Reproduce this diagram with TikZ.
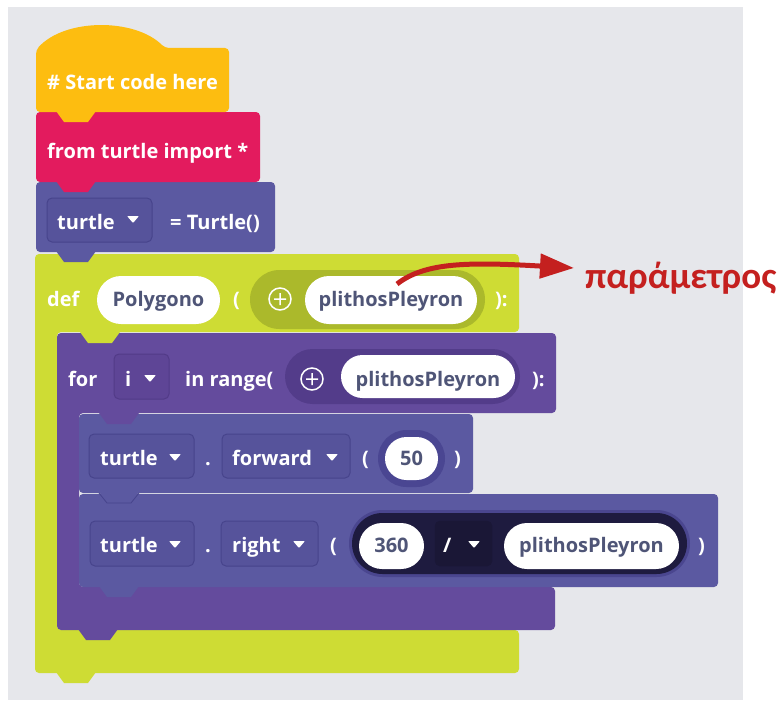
\documentclass[tikz,border=0pt]{standalone}
\usepackage{fontspec}
\newfontfamily\blockfont{Open Sans}
\newfontfamily\labelfont{Carlito}
\usetikzlibrary{arrows.meta}
\definecolor{bgc}{HTML}{E6E7EB}
\definecolor{yel}{HTML}{FDBD10}
\definecolor{pnk}{HTML}{E31B5E}
\definecolor{slate}{HTML}{5B59A1}
\definecolor{slatedd}{HTML}{56539B}
\definecolor{slateln}{HTML}{47448C}
\definecolor{grn}{HTML}{CEDC34}
\definecolor{olive}{HTML}{ABB92B}
\definecolor{forp}{HTML}{644B9D}
\definecolor{forpdd}{HTML}{5E4596}
\definecolor{forpln}{HTML}{523B88}
\definecolor{forpill}{HTML}{533C8A}
\definecolor{numpill}{HTML}{4A4692}
\definecolor{navy}{HTML}{1E1B3F}
\definecolor{navyln}{HTML}{4A468F}
\definecolor{divdd}{HTML}{1A1736}
\definecolor{pilltxt}{HTML}{4F5577}
\definecolor{redc}{HTML}{C4201F}
\newcommand\tabat[3]{\fill[#3] (#1+20,#2-1) -- (#1+28,#2+10) -- (#1+52,#2+10) -- (#1+60,#2-1) -- cycle;}
\newcommand\tabline[3]{\draw[#3, line width=0.8pt] (#1+20,#2) -- (#1+28,#2+10) -- (#1+52,#2+10) -- (#1+60,#2);}
\newcommand\dtri[2]{\fill[white, rounded corners=0.8pt] (#1-6,#2-4) -- (#1+6,#2-4) -- (#1,#2+3) -- cycle;}
\newcommand\plusicon[2]{\draw[white, line width=1.5pt] (#1,#2) circle (11) (#1-6,#2) -- (#1+6,#2) (#1,#2-6) -- (#1,#2+6);}
\begin{document}
\begin{tikzpicture}[x=1pt,y=-1pt,
  btext/.style={anchor=base west, inner sep=0pt, text=white, font=\blockfont\bfseries\fontsize{20}{24}\selectfont},
  ptext/.style={anchor=base, inner sep=0pt, text=pilltxt, font=\blockfont\bfseries\fontsize{20}{24}\selectfont},
  ddslate/.style={fill=slatedd, draw=slateln, line width=1pt, rounded corners=5},
  ddfor/.style={fill=forpdd, draw=forpln, line width=1pt, rounded corners=5},
  ]
\useasboundingbox (0,0) rectangle (784,701);
\fill[white] (0,0) rectangle (784,701);
\fill[bgc] (8,7) rectangle (743,700);

% ---- block bodies ----
\fill[grn, rounded corners=4] (35,254) -- (519,254) -- (519,332) -- (57,332) -- (57,630) -- (519,630) -- (519,673) -- (35,673) -- cycle;
\fill[forp, rounded corners=4] (57,333) -- (556,333) -- (556,413) -- (79,413) -- (79,587) -- (555,587) -- (555,630) -- (57,630) -- cycle;
\fill[slate, rounded corners=4] (79,414) rectangle (473,493);
\fill[slate, rounded corners=4] (79,494) rectangle (718,587);
\fill[slate, rounded corners=4] (36,182) rectangle (275,252);
\fill[pnk, rounded corners=4] (36,112) rectangle (260,182);
\fill[yel, rounded corners=4] (36,112) -- (36,50) .. controls (65,18) and (135,18) .. (165,48) -- (229,48) -- (229,112) -- cycle;

% ---- tabs ----
\tabat{36}{112}{yel}
\tabat{36}{182}{pnk}
\tabat{36}{252}{slate}
\tabat{60}{333}{grn}
\tabat{36}{673}{grn}
\tabat{79}{414}{forp}
\tabat{58}{630}{forp}
\tabat{79}{493}{slate}
\tabline{79}{493}{slateln}
\tabat{79}{587}{slate}

% ---- top blocks text ----
\node[btext] (start) at (47,89) {\# Start code here};
\node[btext] (imp) at (47,158) {from turtle import *};
\draw[ddslate] (47,198) rectangle (152,242);
\node[btext] (tvar) at (57,229) {turtle};
\dtri{133}{220}
\node[btext] (tassign) at (170,229) {= Turtle()};

% ---- def row ----
\node[btext] (def) at (47,306) {def};
\fill[white, rounded corners=24] (97,276) rectangle (220,324);
\node[ptext] (poly) at (158.5,306) {Polygono};
\node[btext] (dpar) at (233,306) {(};
\fill[olive, rounded corners=29.5] (250,270) rectangle (485,329);
\plusicon{280}{299}
\fill[white, rounded corners=24] (305,276) rectangle (477,324);
\node[ptext] (param) at (391,306) {plithosPleyron};
\node[btext] (dclose) at (495,306) {):};

% ---- for row ----
\node[btext] (for) at (68,386) {for};
\draw[ddfor] (114,354) rectangle (169,399);
\node[btext] (ivar) at (125,386) {i};
\dtri{150}{379}
\node[btext] (range) at (185,386) {in range(};
\fill[forpill, rounded corners=27.5] (285,349) rectangle (520,404);
\plusicon{312}{379}
\fill[white, rounded corners=21.5] (341,355) rectangle (515,398);
\node[ptext] (fparam) at (428,386) {plithosPleyron};
\node[btext] (fclose) at (532,386) {):};

% ---- forward row ----
\draw[ddslate] (89,434) rectangle (194,478);
\node[btext] (t1) at (100,465) {turtle};
\dtri{175}{458}
\node[btext] (dot1) at (205,465) {.};
\draw[ddslate] (222,434) rectangle (350,478);
\node[btext] (fwd) at (232,465) {forward};
\dtri{332}{458}
\node[btext] (op1) at (362,465) {(};
\fill[numpill, rounded corners=28.5] (378,430) rectangle (445,487);
\fill[white, rounded corners=21.5] (385,437) rectangle (438,480);
\node[ptext] (fifty) at (411.5,465) {50};
\node[btext] (cp1) at (454,465) {)};

% ---- right row ----
\draw[ddslate] (90,521) rectangle (194,566);
\node[btext] (t2) at (100,552) {turtle};
\dtri{175}{545}
\node[btext] (dot2) at (205,552) {.};
\draw[ddslate] (221,521) rectangle (318,566);
\node[btext] (rgt) at (232,552) {right};
\dtri{299}{545}
\node[btext] (op2) at (330,552) {(};
\fill[navyln, rounded corners=33.5] (349,510) rectangle (690,577);
\fill[navy, rounded corners=30.5] (352,513) rectangle (687,574);
\fill[white, rounded corners=23] (359,523) rectangle (424,569);
\node[ptext] (three) at (391.5,552) {360};
\draw[fill=divdd, draw=divdd, rounded corners=5] (435,521) rectangle (492,566);
\node[btext] (slash) at (443,552) {/};
\dtri{474}{545}
\fill[white, rounded corners=23] (504,523) rectangle (679,569);
\node[ptext] (rparam) at (591.5,552) {plithosPleyron};
\node[btext] (cp2) at (698,552) {)};

% ---- annotation ----
\node[anchor=base west, inner sep=0pt, text=redc, font=\labelfont\bfseries\fontsize{37}{44}\selectfont] (lab) at (585,288) {παράμετρος};
\coordinate (arrstart) at (397,284);
\coordinate (arrend) at (574,268);
\draw[redc, line width=5pt, -{Triangle[length=34pt,width=24pt]}] (arrstart) .. controls (425,262) and (470,262) .. (arrend);
\end{tikzpicture}
\end{document}
